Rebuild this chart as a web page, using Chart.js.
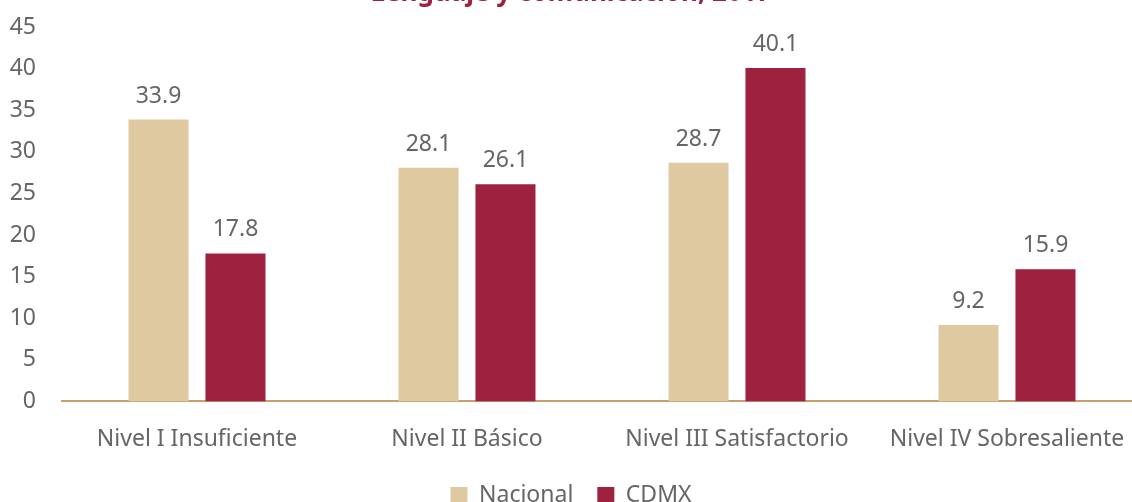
<!DOCTYPE html>
<html lang="es">
<head>
<meta charset="UTF-8">
<title>Lenguaje y comunicación, 2017</title>
<script src="https://cdn.jsdelivr.net/npm/chart.js"></script>
<style>
  html, body { margin: 0; padding: 0; background: #fff; overflow: hidden; }
  #wrap { position: absolute; left: 0; top: -22px; width: 1142px; height: 539px; }
</style>
</head>
<body>
<div id="wrap"><canvas id="grafica"></canvas></div>
<script>
// Niveles de logro y porcentajes por ámbito
const niveles = ['Nivel I Insuficiente', 'Nivel II Básico', 'Nivel III Satisfactorio', 'Nivel IV Sobresaliente'];
const nacional = [33.9, 28.1, 28.7, 9.2];
const cdmx = [17.8, 26.1, 40.1, 15.9];
const marcasY = [0, 5, 10, 15, 20, 25, 30, 35, 40, 45];

const fuente = "'Noto Sans', 'Open Sans', sans-serif";
const gris = '#666666';

// etiquetas de valor sobre cada barra
const etiquetas = {
  id: 'etiquetas',
  afterDatasetsDraw(chart) {
    const ctx = chart.ctx;
    ctx.save();
    ctx.font = '23px ' + fuente;
    ctx.fillStyle = gris;
    ctx.textAlign = 'center';
    ctx.textBaseline = 'bottom';
    chart.data.datasets.forEach((ds, i) => {
      chart.getDatasetMeta(i).data.forEach((bar, j) => {
        ctx.fillText(ds.data[j].toFixed(1), bar.x, bar.y - 12);
      });
    });
    ctx.restore();
  }
};

new Chart(document.getElementById('grafica'), {
  type: 'bar',
  data: {
    labels: niveles,
    datasets: [
      { label: 'Nacional', data: nacional, backgroundColor: '#dec9a1' },
      { label: 'CDMX', data: cdmx, backgroundColor: '#9e2140' }
    ]
  },
  options: {
    responsive: true,
    maintainAspectRatio: false,
    animation: false,
    categoryPercentage: 0.57,
    barPercentage: 0.78,
    layout: { padding: 0 },
    plugins: {
      title: {
        display: true,
        text: 'Lenguaje y comunicación, 2017',
        color: '#9e2140',
        font: { family: fuente, size: 26, weight: 'bold' },
        padding: { top: 0, bottom: 18 }
      },
      legend: {
        position: 'bottom',
        labels: {
          color: gris,
          font: { family: fuente, size: 23 },
          boxWidth: 17,
          boxHeight: 17,
          padding: 24
        }
      },
      tooltip: { enabled: false }
    },
    scales: {
      x: {
        grid: { display: false },
        border: { display: true, color: '#c8a070', width: 2 },
        ticks: { color: gris, font: { family: fuente, size: 23 }, padding: 16 },
        afterFit(axis) { axis.height -= 9; }
      },
      y: {
        min: 0,
        max: 45,
        afterBuildTicks(axis) { axis.ticks = marcasY.map(v => ({ value: v })); },
        afterFit(axis) { axis.width = 62; },
        grid: { display: false, drawTicks: false },
        border: { display: false },
        ticks: { color: gris, font: { family: fuente, size: 23 }, padding: 26 }
      }
    }
  },
  plugins: [etiquetas]
});
</script>
</body>
</html>
